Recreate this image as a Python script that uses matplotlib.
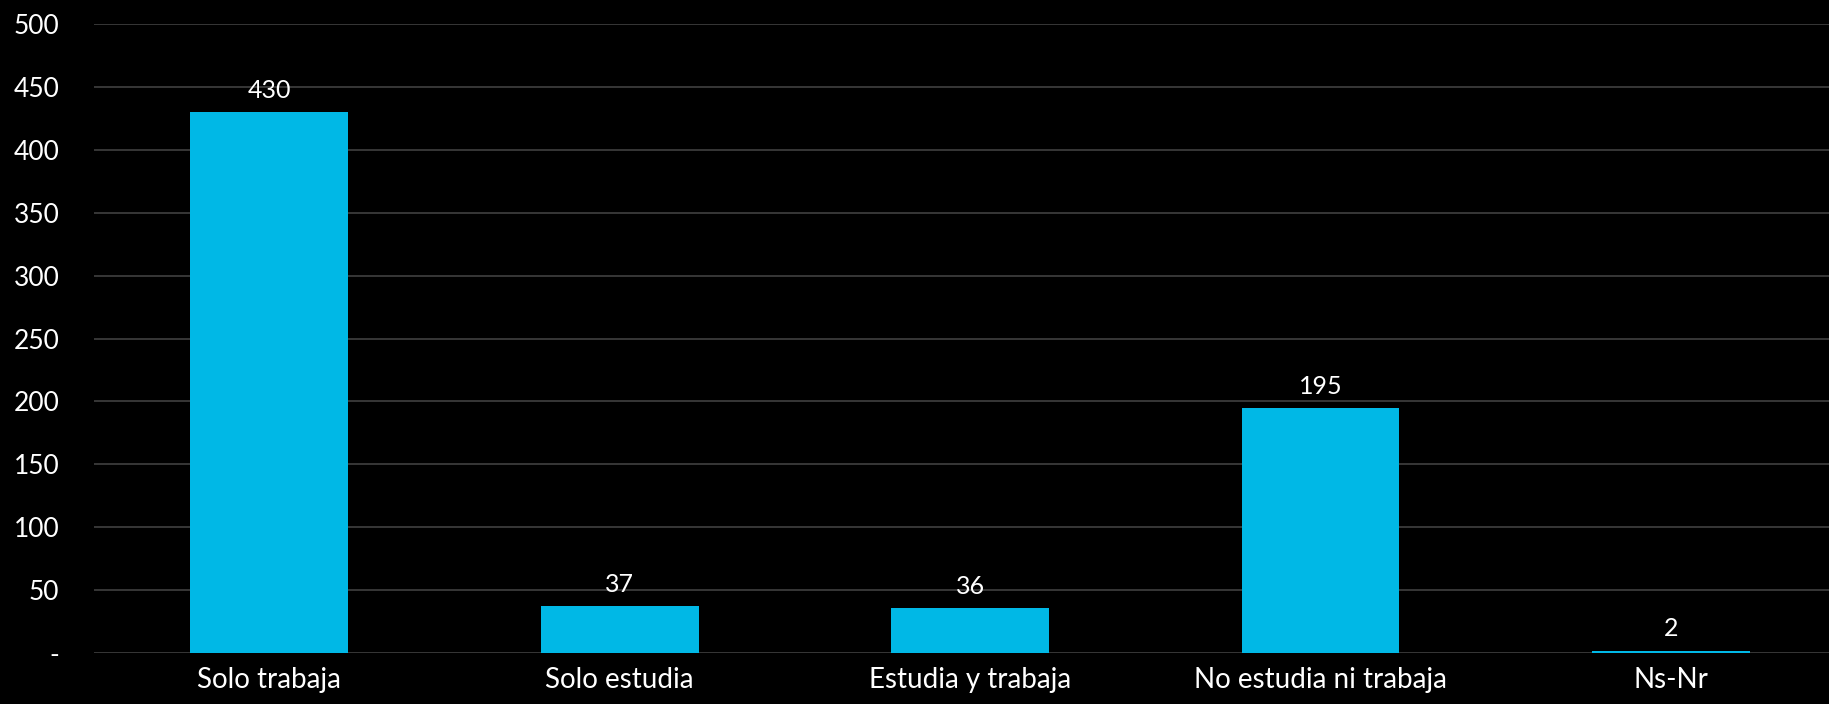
import matplotlib
matplotlib.use("Agg")
import matplotlib.pyplot as plt

categories = ["Solo trabaja", "Solo estudia", "Estudia y trabaja", "No estudia ni trabaja", "Ns-Nr"]
values = [430, 37, 36, 195, 2]
yticks = [0, 50, 100, 150, 200, 250, 300, 350, 400, 450, 500]
ytick_labels = ["-", "50", "100", "150", "200", "250", "300", "350", "400", "450", "500"]

plt.rcParams['font.family'] = ['Lato', 'DejaVu Sans']

fig = plt.figure(figsize=(18.29, 7.04), dpi=100, facecolor="black")
ax = fig.add_axes([0.0514, 0.0724, 0.958, 0.8935], facecolor="black")

x = range(len(categories))
bars = ax.bar(x, values, width=0.45, color="#00B8E6", zorder=3)
for b, v in zip(bars, values):
    ax.text(b.get_x() + b.get_width() / 2, v + 8, str(v), ha="center", va="bottom",
            color="white", fontsize=18)

ax.set_xlim(-0.5, len(categories) - 0.5)
ax.set_ylim(0, 500)
ax.set_yticks(yticks)
ax.set_yticklabels(ytick_labels)
ax.set_xticks(list(x))
ax.set_xticklabels(categories)
ax.tick_params(axis="y", colors="white", labelsize=19, length=0, pad=25)
ax.tick_params(axis="x", colors="white", labelsize=20, length=0, pad=10)
ax.grid(axis="y", color="#404040", linewidth=1.2, zorder=0)
for s in ax.spines.values():
    s.set_visible(False)

fig.savefig("out.png", dpi=100, facecolor="black")
